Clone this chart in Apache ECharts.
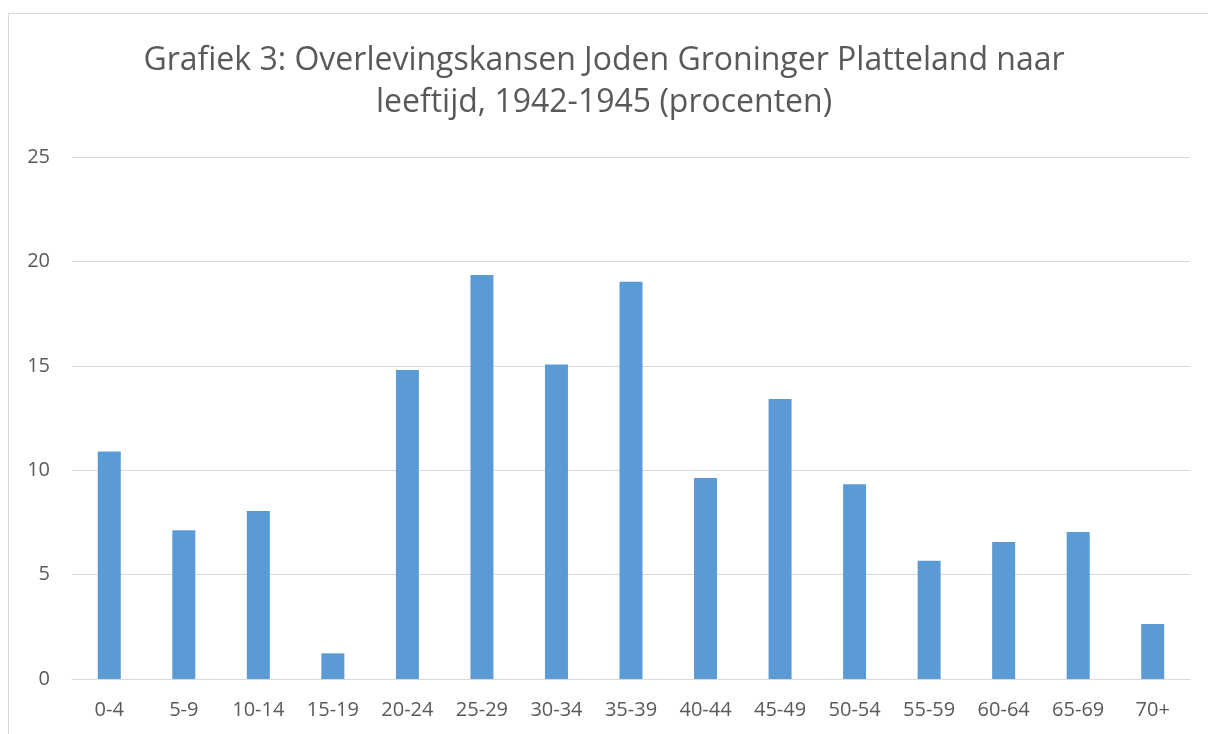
<!DOCTYPE html>
<html>
<head>
    <meta charset="utf-8">
    <title>Grafiek 3</title>
    <script type="text/javascript" src="https://cdn.jsdelivr.net/npm/echarts@6/dist/echarts.min.js"></script>
</head>
<body style="margin:0;background:#fff;">
<div id="main" style="width: 1208px;height:734px;"></div>
<script type="text/javascript">
    // leeftijdsgroepen
    var categories = ['0-4', '5-9', '10-14', '15-19', '20-24', '25-29', '30-34', '35-39',
        '40-44', '45-49', '50-54', '55-59', '60-64', '65-69', '70+'];
    // overlevingskans in procenten
    var values = [10.9, 7.13, 8.04, 1.23, 14.8, 19.35, 15.06, 19.03,
        9.63, 13.41, 9.33, 5.66, 6.56, 7.04, 2.64];
    var yTicks = [0, 5, 10, 15, 20, 25];

    var myChart = echarts.init(document.getElementById('main'));

    var option = {
        backgroundColor: '#fff',
        animation: false,
        title: {
            text: 'Grafiek 3: Overlevingskansen Joden Groninger Platteland naar\nleeftijd, 1942-1945 (procenten)',
            left: 'center',
            top: 35,
            textStyle: {
                color: '#595959',
                fontFamily: 'Open Sans',
                fontWeight: 'normal',
                fontSize: 32,
                lineHeight: 42
            }
        },
        graphic: [{
            type: 'rect',
            shape: {x: 8.5, y: 13.5, width: 1300, height: 800},
            style: {fill: 'none', stroke: '#d9d9d9', lineWidth: 1},
            silent: true
        }],
        grid: {left: 72, right: 18, top: 157, bottom: 55},
        xAxis: {
            type: 'category',
            data: categories,
            axisLine: {lineStyle: {color: '#d9d9d9'}},
            axisTick: {show: false},
            axisLabel: {
                color: '#595959',
                fontFamily: 'Open Sans',
                fontSize: 20,
                margin: 21
            }
        },
        yAxis: {
            type: 'value',
            min: yTicks[0],
            max: yTicks[yTicks.length - 1],
            interval: 5,
            axisLine: {show: false},
            axisTick: {show: false},
            splitLine: {lineStyle: {color: '#d9d9d9'}},
            axisLabel: {
                color: '#595959',
                fontFamily: 'Open Sans',
                fontSize: 20,
                margin: 22
            }
        },
        series: [{
            type: 'bar',
            data: values,
            barWidth: 23,
            itemStyle: {color: '#5b9bd5'}
        }]
    };

    myChart.setOption(option);
</script>
</body>
</html>
